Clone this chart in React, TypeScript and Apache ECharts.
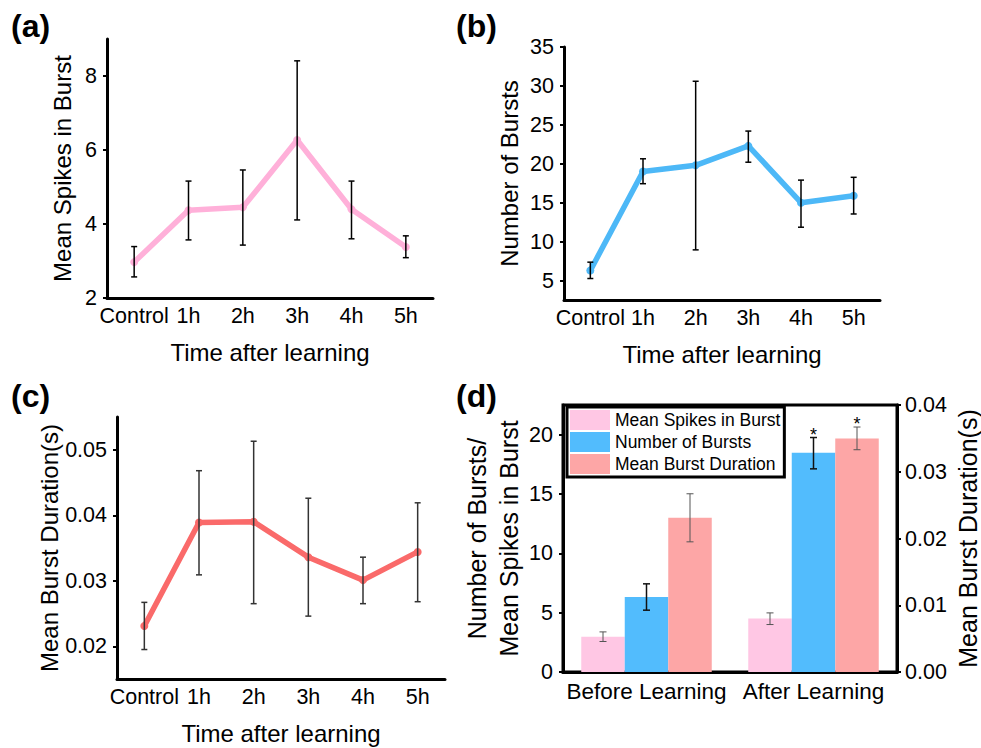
import React, { useEffect, useRef } from "react";
import * as echarts from "echarts";

// ---------- data ----------
const timeLabels = ["Control", "1h", "2h", "3h", "4h", "5h"];

const spikesMean = [2.97, 4.37, 4.45, 6.27, 4.4, 3.38];
const spikesLow = [2.57, 3.57, 3.43, 4.11, 3.6, 3.09];
const spikesHigh = [3.39, 5.16, 5.46, 8.41, 5.16, 3.68];

const burstsMean = [6.3, 19.0, 19.8, 22.3, 15.0, 15.9];
const burstsLow = [5.26, 17.44, 8.94, 20.2, 11.85, 13.55];
const burstsHigh = [7.36, 20.64, 30.6, 24.2, 17.9, 18.26];

const durationMean = [0.0231, 0.0389, 0.039, 0.0336, 0.0301, 0.0344];
const durationLow = [0.0195, 0.0309, 0.0265, 0.0246, 0.0265, 0.0268];
const durationHigh = [0.0267, 0.0468, 0.0513, 0.0426, 0.0336, 0.0419];

const groupLabels = ["Before Learning", "After Learning"];
const barSpikes = [2.97, 4.51];
const barSpikesLow = [2.57, 4.0];
const barSpikesHigh = [3.38, 4.98];
const barBursts = [6.33, 18.47];
const barBurstsLow = [5.21, 17.12];
const barBurstsHigh = [7.43, 19.76];
const barDuration = [0.0231, 0.035];
const barDurationLow = [0.0195, 0.0333];
const barDurationHigh = [0.0267, 0.0367];
const significance = ["", "*"];

const ticksA = [2, 4, 6, 8];
const ticksB = [5, 10, 15, 20, 25, 30, 35];
const ticksC = [0.02, 0.03, 0.04, 0.05];
const ticksDLeft = [0, 5, 10, 15, 20];
const ticksDRight = [0, 0.01, 0.02, 0.03, 0.04];

const legendNames = ["Mean Spikes in Burst", "Number of Bursts", "Mean Burst Duration"];

// ---------- style ----------
const FONT = "'Liberation Sans', Arial, Helvetica, sans-serif";
const PINK_LINE = "#FFB0D9";
const BLUE_LINE = "#4DB8F7";
const RED_LINE = "#FA6A6A";
const PINK_BAR = "#FFC7E4";
const BLUE_BAR = "#52BCFD";
const RED_BAR = "#FDA6A6";
const BAR_W = 43.5;

function errRender(color: string, width: number, capHalf: number, offset: number, sig?: string[]) {
  return (params: any, api: any) => {
    const i = api.value(0);
    const lo = api.coord([i, api.value(1)]);
    const hi = api.coord([i, api.value(2)]);
    const x = lo[0] + offset;
    const st = { stroke: color, lineWidth: width };
    const children: any[] = [
      { type: "line", shape: { x1: x, y1: lo[1], x2: x, y2: hi[1] }, style: st },
      { type: "line", shape: { x1: x - capHalf, y1: lo[1], x2: x + capHalf, y2: lo[1] }, style: st },
      { type: "line", shape: { x1: x - capHalf, y1: hi[1], x2: x + capHalf, y2: hi[1] }, style: st },
    ];
    if (sig && sig[i]) {
      children.push({
        type: "text",
        x: x,
        y: hi[1] + 6,
        style: {
          text: sig[i],
          fontSize: 18,
          fontFamily: FONT,
          fill: "#000",
          align: "center",
          verticalAlign: "bottom",
        },
      });
    }
    return { type: "group", children };
  };
}

function errData(low: number[], high: number[]) {
  return low.map((l, i) => [i, l, high[i]]);
}

function catAxis(gridIndex: number, data: string[], name: string) {
  return {
    type: "category",
    gridIndex,
    data,
    boundaryGap: true,
    axisLine: { lineStyle: { color: "#000", width: 3 } },
    axisTick: { alignWithLabel: true, length: 4, lineStyle: { color: "#000", width: 2 } },
    axisLabel: { interval: 0, fontSize: 21.5, color: "#000", fontFamily: FONT, margin: 7 },
    name,
    nameLocation: "middle",
    nameGap: 42,
    nameTextStyle: { fontSize: 24, color: "#000", fontFamily: FONT },
  };
}

function valAxis(
  gridIndex: number,
  min: number,
  max: number,
  ticks: number[],
  name: string,
  nameGap: number,
  opts: any = {}
) {
  return {
    type: "value",
    gridIndex,
    min,
    max,
    position: opts.position || "left",
    axisLine: { show: true, lineStyle: { color: "#000", width: 3 } },
    axisTick: { show: true, length: 4, customValues: ticks, lineStyle: { color: "#000", width: 2 } },
    axisLabel: {
      customValues: ticks,
      fontSize: 21.5,
      color: "#000",
      fontFamily: FONT,
      margin: opts.margin ?? 10,
      formatter: opts.formatter,
    },
    splitLine: { show: false },
    name,
    nameLocation: "middle",
    nameGap,
    nameTextStyle: {
      fontSize: opts.nameSize || 24,
      color: "#000",
      fontFamily: FONT,
      lineHeight: opts.lineHeight,
    },
  };
}

function lineSeries(xi: number, yi: number, data: number[], color: string) {
  return {
    type: "line",
    name: "line" + xi,
    xAxisIndex: xi,
    yAxisIndex: yi,
    data,
    symbol: "circle",
    symbolSize: 8,
    itemStyle: { color },
    lineStyle: { color, width: 5.5 },
    z: 2,
  };
}

function errSeries(xi: number, yi: number, low: number[], high: number[], render: any) {
  return {
    type: "custom",
    xAxisIndex: xi,
    yAxisIndex: yi,
    data: errData(low, high),
    encode: { x: 0, y: [1, 2] },
    renderItem: render,
    z: 5,
    silent: true,
  };
}

const fmt2 = (v: number) => v.toFixed(2);

export default function App() {
  const ref = useRef<HTMLDivElement>(null);

  useEffect(() => {
    if (!ref.current) return;
    const chart = echarts.init(ref.current, null, { renderer: "svg" });

    const labelFont = `bold 32px ${FONT}`;
    const option: any = {
      animation: false,
      backgroundColor: "#fff",
      textStyle: { fontFamily: FONT },
      grid: [
        { left: 107, top: 39, width: 326, height: 259 },
        { left: 564, top: 47, width: 316, height: 253 },
        { left: 117, top: 417, width: 328, height: 262 },
        { left: 563, top: 405, width: 336, height: 267, show: true, borderColor: "#000", borderWidth: 3 },
      ],
      xAxis: [
        catAxis(0, timeLabels, "Time after learning"),
        catAxis(1, timeLabels, "Time after learning"),
        catAxis(2, timeLabels, "Time after learning"),
        { ...catAxis(3, groupLabels, ""), axisLabel: { interval: 0, fontSize: 22.5, color: "#000", fontFamily: FONT, margin: 8 } },
      ],
      yAxis: [
        valAxis(0, 2, 9, ticksA, "Mean Spikes in Burst", 33),
        valAxis(1, 2.5, 35, ticksB, "Number of Bursts", 43),
        valAxis(2, 0.015, 0.055, ticksC, "Mean Burst Duration(s)", 55, { formatter: fmt2 }),
        valAxis(3, 0, 22.5, ticksDLeft, "Number of Bursts/\nMean Spikes in Burst", 36, { nameSize: 25, lineHeight: 32 }),
        valAxis(3, 0, 0.04, ticksDRight, "Mean Burst Duration(s)", 58, {
          position: "right",
          formatter: fmt2,
          nameSize: 25,
          margin: 8,
        }),
      ],
      legend: {
        data: legendNames,
        orient: "vertical",
        left: 567,
        top: 407,
        icon: "rect",
        itemWidth: 40,
        itemHeight: 20,
        itemGap: 2,
        padding: [3, 4, 3, 3],
        borderColor: "#000",
        borderWidth: 3,
        backgroundColor: "#fff",
        textStyle: { fontSize: 17.5, color: "#000", fontFamily: FONT },
        selectedMode: false,
        z: 10,
      },
      graphic: [
        { type: "text", left: 11, top: 10, style: { text: "(a)", font: labelFont, fill: "#000" } },
        { type: "text", left: 456, top: 10, style: { text: "(b)", font: labelFont, fill: "#000" } },
        { type: "text", left: 11, top: 380, style: { text: "(c)", font: labelFont, fill: "#000" } },
        { type: "text", left: 456, top: 380, style: { text: "(d)", font: labelFont, fill: "#000" } },
      ],
      series: [
        lineSeries(0, 0, spikesMean, PINK_LINE),
        errSeries(0, 0, spikesLow, spikesHigh, errRender("#000", 1.5, 3, 0)),
        lineSeries(1, 1, burstsMean, BLUE_LINE),
        errSeries(1, 1, burstsLow, burstsHigh, errRender("#000", 1.5, 3, 0)),
        lineSeries(2, 2, durationMean, RED_LINE),
        errSeries(2, 2, durationLow, durationHigh, errRender("#333", 1.5, 3, 0)),
        {
          type: "bar",
          name: legendNames[0],
          xAxisIndex: 3,
          yAxisIndex: 3,
          data: barSpikes,
          barWidth: BAR_W,
          barGap: "0%",
          itemStyle: { color: PINK_BAR },
        },
        {
          type: "bar",
          name: legendNames[1],
          xAxisIndex: 3,
          yAxisIndex: 3,
          data: barBursts,
          barWidth: BAR_W,
          barGap: "0%",
          itemStyle: { color: BLUE_BAR },
        },
        {
          type: "bar",
          name: legendNames[2],
          xAxisIndex: 3,
          yAxisIndex: 4,
          data: barDuration,
          barWidth: BAR_W,
          barGap: "0%",
          itemStyle: { color: RED_BAR },
        },
        errSeries(3, 3, barSpikesLow, barSpikesHigh, errRender("#555", 1, 3.5, -BAR_W)),
        errSeries(3, 3, barBurstsLow, barBurstsHigh, errRender("#111", 1.5, 3.5, 0, significance)),
        errSeries(3, 4, barDurationLow, barDurationHigh, errRender("#555", 1, 3.5, BAR_W, significance)),
      ],
    };

    chart.setOption(option);
    return () => chart.dispose();
  }, []);

  return (
    <div
      ref={ref}
      style={{ position: "absolute", left: 0, top: 0, width: 981, height: 748, background: "#fff" }}
    />
  );
}
